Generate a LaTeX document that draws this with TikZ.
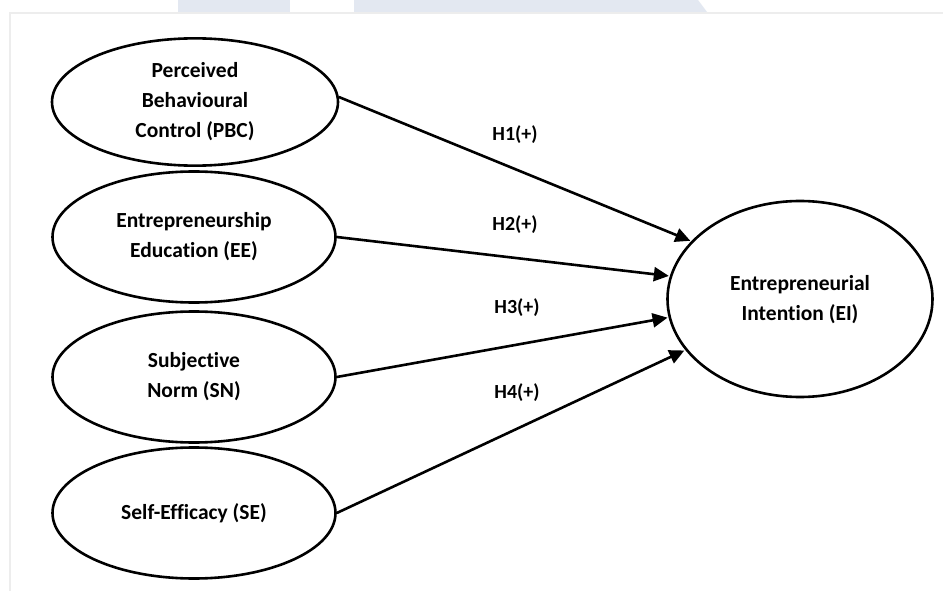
\documentclass[tikz,border=0pt]{standalone}
\usepackage{fontspec}
\setmainfont{Carlito}[Ligatures=NoCommon]
\usetikzlibrary{arrows.meta,shapes.geometric}
\definecolor{band}{HTML}{E3E8F1}
\definecolor{edge}{HTML}{EDEDED}
\tikzset{
  construct/.style={draw=black, line width=2.6pt, ellipse, inner sep=0pt,
    align=center, font=\fontsize{21.5}{30}\selectfont\bfseries},
  path/.style={line width=2.6pt, -{Triangle[length=15pt,width=14pt]}, shorten >=1pt},
  hyp/.style={font=\fontsize{20}{22}\selectfont\bfseries, inner sep=0pt}
}
\begin{document}
\begin{tikzpicture}[x=1pt,y=-1pt]
\useasboundingbox (0,0) rectangle (943,591);
\fill[white] (0,0) rectangle (943,591);
% watermark band and page edge
\fill[band] (178,0) rectangle (290,12);
\fill[band] (354,0) -- (698,0) -- (707,12) -- (354,12) -- cycle;
\draw[edge, line width=1.2pt] (10,591) -- (10,13) -- (943,13);
% constructs
\node[construct, minimum width=286pt, minimum height=125pt] (pbc) at (195,102) {\raisebox{3pt}{\begin{tabular}{@{}c@{}}Perceived\\Behavioural\\Control (PBC)\end{tabular}}};
\node[construct, minimum width=283pt, minimum height=131pt] (ee) at (194,237) {Entrepreneurship\\Education (EE)};
\node[construct, minimum width=283pt, minimum height=131pt] (sn) at (194,377) {Subjective\\Norm (SN)};
\node[construct, minimum width=283pt, minimum height=131pt] (se) at (194,513) {Self-Efficacy (SE)};
\node[construct, minimum width=265pt, minimum height=196pt] (ei) at (800,299) {\raisebox{4pt}{\begin{tabular}{@{}c@{}}Entrepreneurial\\Intention (EI)\end{tabular}}};
% paths
\draw[path] (pbc.2) -- (ei.152);
\draw[path] (ee.east) -- (ei.170);
\draw[path] (sn.east) -- (ei.188);
\draw[path] (se.east) -- (ei.204);
% labels
\node[hyp] (h1) at (515,135) {H1(+)};
\node[hyp] (h2) at (515,225) {H2(+)};
\node[hyp] (h3) at (517,308) {H3(+)};
\node[hyp] (h4) at (517,393) {H4(+)};
\end{tikzpicture}
\end{document}
